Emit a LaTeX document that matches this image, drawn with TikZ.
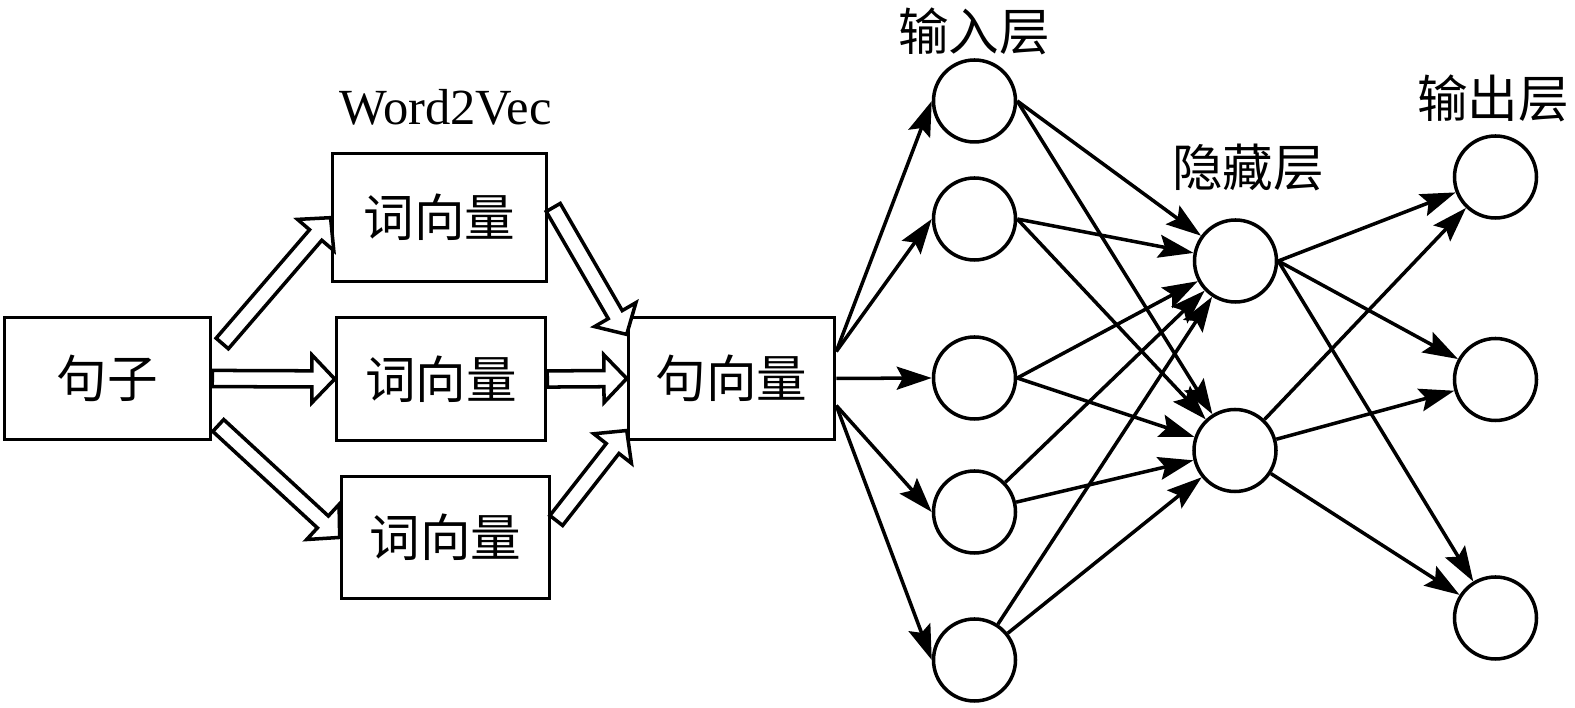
\documentclass[tikz,border=0pt]{standalone}
\usepackage{fontspec}
\setmainfont{Liberation Serif}
\newfontfamily\cjk{Noto Sans CJK SC}
\usepackage{tikz}
\usetikzlibrary{automata,arrows.meta,positioning,calc}

\newcommand{\hollowarrow}[2]{%
  \draw[-,line width=1pt,fill=white] let \p1=(#1), \p2=(#2),
    \n1={atan2(\y2-\y1,\x2-\x1)}, \n2={veclen(\x2-\x1,\y2-\y1)}, \n3={\n2-6.5pt}
  in [shift={(\p1)},rotate=\n1]
  (0pt,2.3pt) -- (\n3,2.3pt) -- (\n3,6.8pt) -- (\n2,0pt)
  -- (\n3,-6.8pt) -- (\n3,-2.3pt) -- (0pt,-2.3pt) -- cycle;}

\begin{document}
\begin{tikzpicture}[->,>={Stealth[length=3.5mm,width=2.3mm,inset=0.6mm]},line width=1pt,
			font=\fontsize{14.4}{17}\selectfont]
			\tikzstyle{every state}=[fill=white,draw=black,line width=1pt,minimum size=0.82cm,inner sep=0pt]
			\tikzstyle{box}=[draw=black,line width=1pt,rectangle,minimum width=2.06cm,minimum height=1.22cm,font=\cjk\fontsize{14.4}{17}\selectfont]
			\tikzstyle{title}=[font=\cjk\fontsize{14.4}{17}\selectfont]
			
			\useasboundingbox (0,0) rectangle (15.75,-7.08);
			
			\node[box]    (sz) at (1.075,-3.785)    {句子};
			
			\node[box, minimum width=2.14cm, minimum height=1.28cm]    (w1) at (4.395,-2.175)    {词向量};
			
			\node[box, minimum width=2.09cm, minimum height=1.23cm]    (w2) at (4.41,-3.79)    {词向量};
			
			\node[box, minimum width=2.08cm]    (w3) at (4.455,-5.375)    {词向量};
			
			\node[box]    (sv) at (7.315,-3.785)    {句向量};
			
			\node[anchor=base]    (w2v) at (4.455,-1.25)    {Word2Vec};
			
			\node[state]    (i1) at (9.745,-1.01)    {};
			
			\node[state]    (i2) at (9.745,-2.19)    {};
			
			\node[state]    (i3) at (9.745,-3.78)    {};
			
			\node[state]    (i4) at (9.745,-5.12)    {};
			
			\node[state]    (i5) at (9.745,-6.60)    {};
			
			\node[state]    (h1) at (12.355,-2.61)    {};
			
			\node[state]    (h2) at (12.35,-4.505)    {};
			
			\node[state]    (o1) at (14.955,-1.77)    {};
			
			\node[state]    (o2) at (14.955,-3.795)    {};
			
			\node[state]    (o3) at (14.955,-6.18)    {};
			
			\node[title]    (tin) at (9.74,-0.31)    {输入层};
			
			\node[title]    (thid) at (12.48,-1.68)    {隐藏层};
			
			\node[title]    (tout) at (14.93,-0.985)    {输出层};
			
			% hollow arrows between the boxes
			\hollowarrow{[xshift=0.1cm,yshift=0.35cm]sz.east}{w1.west}
			\hollowarrow{sz.east}{w2.west}
			\hollowarrow{[xshift=0.06cm,yshift=-0.47cm]sz.east}{w3.west}
			\hollowarrow{[xshift=0.05cm,yshift=0.1cm]w1.east}{[yshift=0.44cm]sv.west}
			\hollowarrow{w2.east}{sv.west}
			\hollowarrow{[xshift=0.05cm,yshift=0.17cm]w3.east}{[yshift=-0.52cm]sv.west}
			
			\path
			
			([yshift=0.27cm]sv.east) edge (i1.west)
			
			([yshift=0.27cm]sv.east) edge (i2.west)
			
			(sv.east) edge (i3.west)
			
			([yshift=-0.27cm]sv.east) edge (i4.west)
			
			([yshift=-0.27cm]sv.east) edge (i5.west)
			
			(i1.east) edge (h1)
			
			(i1.east) edge (h2)
			
			(i2.east) edge (h1)
			
			(i2.east) edge (h2)
			
			(i3.east) edge (h1)
			
			(i3.east) edge (h2)
			
			(i4) edge (h1)
			
			(i4) edge (h2)
			
			(i5) edge (h1)
			
			(i5) edge (h2)
			
			(h1.east) edge (o1)
			
			(h1.east) edge (o2)
			
			(h1.east) edge (o3)
			
			(h2) edge (o1)
			
			(h2) edge (o2)
			
			(h2) edge (o3);
			
\end{tikzpicture}
\end{document}
